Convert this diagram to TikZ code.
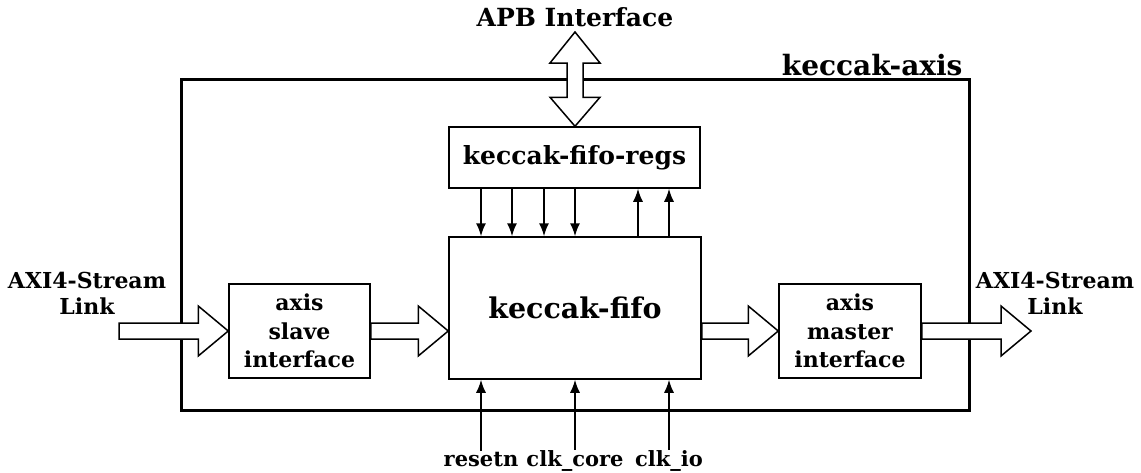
\documentclass[tikz,border=0pt]{standalone}
\usepackage{fontspec}
\setmainfont{DejaVu Serif}
\usetikzlibrary{calc,arrows.meta}
\tikzset{
  box/.style={draw, line width=1.5pt, inner sep=0pt, font=\bfseries},
  blk/.style={draw, line width=1.5pt, fill=white, line join=miter},
  sig/.style={draw, line width=1.5pt, -{Latex[length=13pt,width=10pt]}},
  lbl/.style={font=\bfseries\fontsize{22}{26}\selectfont, align=center},
  bl/.style={font=\bfseries\fontsize{21}{24}\selectfont, anchor=base},
}
\newcommand\harrow[2]{\path[blk] let \p1=(#1), \p2=(#2) in
  (\x1,\y1-8) -- (\x2-30,\y1-8) -- (\x2-30,\y1-25) -- (\x2,\y1) -- (\x2-30,\y1+25) -- (\x2-30,\y1+8) -- (\x1,\y1+8) -- cycle;}
\begin{document}
\begin{tikzpicture}[x=1pt,y=-1pt]
\useasboundingbox (0,0) rectangle (1141,472);
% outer
\node[draw, line width=3pt, minimum width=788pt, minimum height=331pt, inner sep=0pt] (axis) at (575,244.5) {};
\node[anchor=base east, font=\bfseries\fontsize{28}{32}\selectfont] (axislbl) at (966,75) {keccak-axis};
% boxes
\node[box, minimum width=251pt, minimum height=61pt, font=\bfseries\fontsize{25}{28}\selectfont] (regs) at (574.5,157.5) {keccak-fifo-regs};
\node[box, minimum width=252pt, minimum height=142pt, font=\bfseries\fontsize{28.5}{32}\selectfont] (fifo) at (575,308) {keccak-fifo};
\node[box, minimum width=141pt, minimum height=94pt, align=center, font=\bfseries\fontsize{22}{28.5}\selectfont] (slave) at (299.5,331) {axis\\slave\\interface};
\node[box, minimum width=142pt, minimum height=94pt, align=center, font=\bfseries\fontsize{22}{28.5}\selectfont] (master) at (850,331) {axis\\master\\interface};
% labels
\node[font=\bfseries\fontsize{25}{28}\selectfont] (apb) at (575,17) {APB Interface};
\node[lbl] (inl) at (87,293) {AXI4-Stream\\Link};
\node[lbl] (outl) at (1055,293) {AXI4-Stream\\Link};
\coordinate (inarr) at (119,331);
\coordinate (outarr) at (1031,331);
% block arrows
\harrow{inarr}{slave.west}
\harrow{slave.east}{fifo.west |- slave.east}
\harrow{fifo.east |- master.west}{master.west}
\harrow{master.east}{outarr}
% APB double arrow
\coordinate (apbtip) at (575,32);
\path[blk] let \p1=(apbtip), \p2=(regs.north) in
  (\x1,\y1) -- (\x1+25,\y1-31) -- (\x1+8,\y1-31) -- (\x1+8,\y2+29) -- (\x1+25,\y2+29) -- (\x1,\y2)
  -- (\x1-25,\y2+29) -- (\x1-8,\y2+29) -- (\x1-8,\y1-31) -- (\x1-25,\y1-31) -- cycle;
% regs <-> fifo
\foreach \x in {481,512,544,575} \draw[sig] (regs.south -| \x,0) -- (fifo.north -| \x,0);
\foreach \x in {638,669} \draw[sig] (fifo.north -| \x,0) -- (regs.south -| \x,0);
% bottom signals
\node[bl] (rst) at (481,466) {resetn};
\node[bl] (clkc) at (575,466) {clk\_core};
\node[bl] (clki) at (669,466) {clk\_io};
\foreach \n/\x in {rst/481,clkc/575,clki/669} \draw[sig] (\n.north -| \x,0) ++(0,3) -- (fifo.south -| \x,0);
\end{tikzpicture}
\end{document}
